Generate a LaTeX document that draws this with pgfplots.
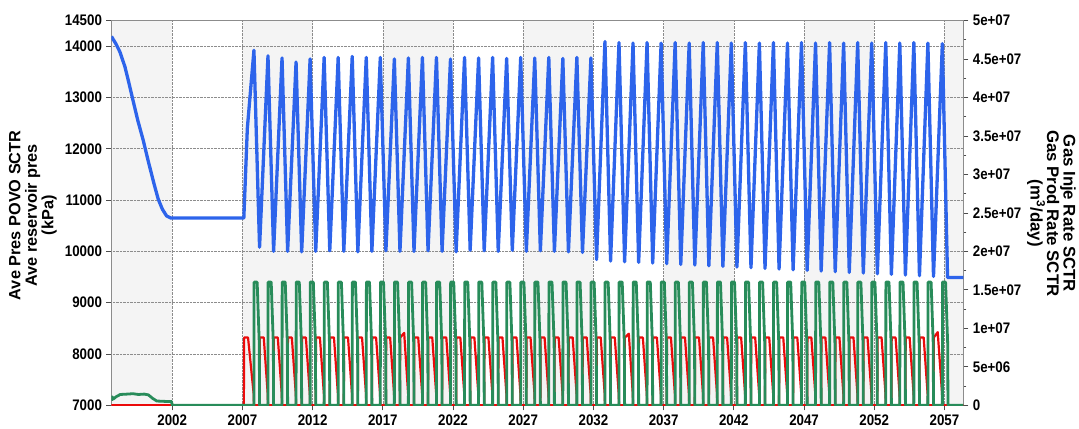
\documentclass[border=0pt]{standalone}
\usepackage{pgfplots}
\pgfplotsset{compat=1.18}
\usepackage{fontspec}
\setmainfont{Liberation Sans}[FakeStretch=0.87]
\newfontfamily\labelfont{Liberation Sans}
\definecolor{cblue}{RGB}{45,100,235}
\definecolor{cgreen}{RGB}{40,140,90}
\definecolor{cred}{RGB}{235,10,10}
\definecolor{band}{RGB}{244,244,244}
\begin{document}
\begin{tikzpicture}
\pgfplotsset{
  base/.style={width=852.5pt, height=385pt, scale only axis, at={(0,0)}, anchor=south west,
    xmin=1997.67, xmax=2058.35,
    tick label style={font=\bfseries\fontsize{15.3}{16}\selectfont}},
}
% background bands
\begin{axis}[base, ymin=7000, ymax=14500, hide axis]
\fill[band] (axis cs:1997.67,7000) rectangle (axis cs:2002,14500);
\fill[band] (axis cs:2007,7000) rectangle (axis cs:2012,14500);
\fill[band] (axis cs:2017,7000) rectangle (axis cs:2022,14500);
\fill[band] (axis cs:2027,7000) rectangle (axis cs:2032,14500);
\fill[band] (axis cs:2037,7000) rectangle (axis cs:2042,14500);
\fill[band] (axis cs:2047,7000) rectangle (axis cs:2052,14500);
\fill[band] (axis cs:2057,7000) rectangle (axis cs:2058.35,14500);
\end{axis}
% left axis frame, grid and ticks
\begin{axis}[base, ymin=7000, ymax=14500,
  xtick={2002,2007,...,2057}, ytick={7000,8000,...,14000,14500},
  minor y tick num=1, scaled ticks=false,
  /pgf/number format/assume math mode=true, /pgf/number format/1000 sep={},
  grid=major, grid style={densely dotted, black!45, line width=0.6pt},
  axis line style={black!45, line width=0.8pt},
  tick style={black!70, line width=0.7pt}, tick align=outside,
  major tick length=5pt, minor tick length=3pt,
  xtick pos=bottom, ytick pos=left,
  xticklabel style={yshift=-1pt}, yticklabel style={xshift=-1pt}]
\end{axis}
% right axis: rates (millions m3/day)
\begin{axis}[base, ymin=0, ymax=50, axis x line=none, axis y line*=right,
  ytick={0,5,...,50}, minor y tick num=1,
  yticklabels={0,5e+06,1e+07,1.5e+07,2e+07,2.5e+07,3e+07,3.5e+07,4e+07,4.5e+07,5e+07},
  axis line style={black!45, line width=0.8pt},
  tick style={black!70, line width=0.7pt}, tick align=outside,
  major tick length=5pt, minor tick length=3pt, yticklabel style={xshift=1pt}]
% Gas Inje Rate (red)
\addplot[cred, line width=2.2pt, line join=round] coordinates {
(1997.67,0)(2007.1,0)(2007.12,8.8)(2007.4,8.8)(2007.8,1.5)(2007.82,0)
(2008.22,0)(2008.24,8.8)(2008.52,8.8)(2008.8,1.5)(2008.82,0)
(2009.22,0)(2009.24,8.8)(2009.52,8.8)(2009.8,1.5)(2009.82,0)
(2010.22,0)(2010.24,8.8)(2010.52,8.8)(2010.8,1.5)(2010.82,0)
(2011.22,0)(2011.24,8.8)(2011.52,8.8)(2011.8,1.5)(2011.82,0)
(2012.22,0)(2012.24,8.8)(2012.52,8.8)(2012.8,1.5)(2012.82,0)
(2013.22,0)(2013.24,8.8)(2013.52,8.8)(2013.8,1.5)(2013.82,0)
(2014.22,0)(2014.24,8.8)(2014.52,8.8)(2014.8,1.5)(2014.82,0)
(2015.22,0)(2015.24,8.8)(2015.52,8.8)(2015.8,1.5)(2015.82,0)
(2016.22,0)(2016.24,8.8)(2016.52,8.8)(2016.8,1.5)(2016.82,0)
(2017.22,0)(2017.24,8.8)(2017.52,8.8)(2017.8,1.5)(2017.82,0)
(2018.22,0)(2018.24,8.8)(2018.52,9.4)(2018.8,1.5)(2018.82,0)
(2019.22,0)(2019.24,8.8)(2019.52,8.8)(2019.8,1.5)(2019.82,0)
(2020.22,0)(2020.24,8.8)(2020.52,8.8)(2020.8,1.5)(2020.82,0)
(2021.22,0)(2021.24,8.8)(2021.52,8.8)(2021.8,1.5)(2021.82,0)
(2022.22,0)(2022.24,8.8)(2022.52,8.8)(2022.8,1.5)(2022.82,0)
(2023.22,0)(2023.24,8.8)(2023.52,8.8)(2023.8,1.5)(2023.82,0)
(2024.22,0)(2024.24,8.8)(2024.52,8.8)(2024.8,1.5)(2024.82,0)
(2025.22,0)(2025.24,8.8)(2025.52,8.8)(2025.8,1.5)(2025.82,0)
(2026.22,0)(2026.24,8.8)(2026.52,8.8)(2026.8,1.5)(2026.82,0)
(2027.22,0)(2027.24,8.8)(2027.52,8.8)(2027.8,1.5)(2027.82,0)
(2028.22,0)(2028.24,8.8)(2028.52,8.8)(2028.8,1.5)(2028.82,0)
(2029.22,0)(2029.24,8.8)(2029.52,8.8)(2029.8,1.5)(2029.82,0)
(2030.22,0)(2030.24,8.8)(2030.52,8.8)(2030.8,1.5)(2030.82,0)
(2031.22,0)(2031.24,8.8)(2031.52,8.8)(2031.8,1.5)(2031.82,0)
(2032.22,0)(2032.24,8.8)(2032.52,8.8)(2032.8,1.5)(2032.82,0)
(2033.22,0)(2033.24,8.8)(2033.52,8.8)(2033.8,1.5)(2033.82,0)
(2034.22,0)(2034.24,8.8)(2034.52,9.3)(2034.8,1.5)(2034.82,0)
(2035.22,0)(2035.24,8.8)(2035.52,8.8)(2035.8,1.5)(2035.82,0)
(2036.22,0)(2036.24,8.8)(2036.52,8.8)(2036.8,1.5)(2036.82,0)
(2037.22,0)(2037.24,8.8)(2037.52,8.8)(2037.8,1.5)(2037.82,0)
(2038.22,0)(2038.24,8.8)(2038.52,8.8)(2038.8,1.5)(2038.82,0)
(2039.22,0)(2039.24,8.8)(2039.52,8.8)(2039.8,1.5)(2039.82,0)
(2040.22,0)(2040.24,8.8)(2040.52,8.8)(2040.8,1.5)(2040.82,0)
(2041.22,0)(2041.24,8.8)(2041.52,8.8)(2041.8,1.5)(2041.82,0)
(2042.22,0)(2042.24,8.8)(2042.52,8.8)(2042.8,1.5)(2042.82,0)
(2043.22,0)(2043.24,8.8)(2043.52,8.8)(2043.8,1.5)(2043.82,0)
(2044.22,0)(2044.24,8.8)(2044.52,8.8)(2044.8,1.5)(2044.82,0)
(2045.22,0)(2045.24,8.8)(2045.52,8.8)(2045.8,1.5)(2045.82,0)
(2046.22,0)(2046.24,8.8)(2046.52,8.8)(2046.8,1.5)(2046.82,0)
(2047.22,0)(2047.24,8.8)(2047.52,8.8)(2047.8,1.5)(2047.82,0)
(2048.22,0)(2048.24,8.8)(2048.52,8.8)(2048.8,1.5)(2048.82,0)
(2049.22,0)(2049.24,8.8)(2049.52,8.8)(2049.8,1.5)(2049.82,0)
(2050.22,0)(2050.24,8.8)(2050.52,8.8)(2050.8,1.5)(2050.82,0)
(2051.22,0)(2051.24,8.8)(2051.52,8.8)(2051.8,1.5)(2051.82,0)
(2052.22,0)(2052.24,8.8)(2052.52,8.8)(2052.8,1.5)(2052.82,0)
(2053.22,0)(2053.24,8.8)(2053.52,8.8)(2053.8,1.5)(2053.82,0)
(2054.22,0)(2054.24,8.8)(2054.52,8.8)(2054.8,1.5)(2054.82,0)
(2055.22,0)(2055.24,8.8)(2055.52,8.8)(2055.8,1.5)(2055.82,0)
(2056.22,0)(2056.24,8.8)(2056.52,9.5)(2056.83,1.5)(2056.85,0)
(2058.35,0)};
% Gas Prod Rate (green)
\addplot[cgreen, line width=2.8pt, line join=round] coordinates {
(1997.67,0.6)(1997.72,1.1)(1997.8,0.8)(1998.0,1.1)(1998.3,1.4)(1998.8,1.45)(1999.2,1.5)
(1999.6,1.4)(2000.0,1.45)(2000.3,1.35)(2000.6,0.9)(2000.9,0.55)(2001.5,0.5)(2001.95,0.5)(2002.0,0)
(2007.82,0)(2007.83,16)(2008.05,16)(2008.2,8)(2008.22,0)
(2008.82,0)(2008.83,16)(2009.05,16)(2009.2,8)(2009.22,0)
(2009.82,0)(2009.83,16)(2010.05,16)(2010.2,8)(2010.22,0)
(2010.82,0)(2010.83,16)(2011.05,16)(2011.2,8)(2011.22,0)
(2011.82,0)(2011.83,16)(2012.05,16)(2012.2,8)(2012.22,0)
(2012.82,0)(2012.83,16)(2013.05,16)(2013.2,8)(2013.22,0)
(2013.82,0)(2013.83,16)(2014.05,16)(2014.2,8)(2014.22,0)
(2014.82,0)(2014.83,16)(2015.05,16)(2015.2,8)(2015.22,0)
(2015.82,0)(2015.83,16)(2016.05,16)(2016.2,8)(2016.22,0)
(2016.82,0)(2016.83,16)(2017.05,16)(2017.2,8)(2017.22,0)
(2017.82,0)(2017.83,16)(2018.05,16)(2018.2,8)(2018.22,0)
(2018.82,0)(2018.83,16)(2019.05,16)(2019.2,8)(2019.22,0)
(2019.82,0)(2019.83,16)(2020.05,16)(2020.2,8)(2020.22,0)
(2020.82,0)(2020.83,16)(2021.05,16)(2021.2,8)(2021.22,0)
(2021.82,0)(2021.83,16)(2022.05,16)(2022.2,8)(2022.22,0)
(2022.82,0)(2022.83,16)(2023.05,16)(2023.2,8)(2023.22,0)
(2023.82,0)(2023.83,16)(2024.05,16)(2024.2,8)(2024.22,0)
(2024.82,0)(2024.83,16)(2025.05,16)(2025.2,8)(2025.22,0)
(2025.82,0)(2025.83,16)(2026.05,16)(2026.2,8)(2026.22,0)
(2026.82,0)(2026.83,16)(2027.05,16)(2027.2,8)(2027.22,0)
(2027.82,0)(2027.83,16)(2028.05,16)(2028.2,8)(2028.22,0)
(2028.82,0)(2028.83,16)(2029.05,16)(2029.2,8)(2029.22,0)
(2029.82,0)(2029.83,16)(2030.05,16)(2030.2,8)(2030.22,0)
(2030.82,0)(2030.83,16)(2031.05,16)(2031.2,8)(2031.22,0)
(2031.82,0)(2031.83,16)(2032.05,16)(2032.2,8)(2032.22,0)
(2032.82,0)(2032.83,16)(2033.05,16)(2033.2,8)(2033.22,0)
(2033.82,0)(2033.83,16)(2034.05,16)(2034.2,8)(2034.22,0)
(2034.82,0)(2034.83,16)(2035.05,16)(2035.2,8)(2035.22,0)
(2035.82,0)(2035.83,16)(2036.05,16)(2036.2,8)(2036.22,0)
(2036.82,0)(2036.83,16)(2037.05,16)(2037.2,8)(2037.22,0)
(2037.82,0)(2037.83,16)(2038.05,16)(2038.2,8)(2038.22,0)
(2038.82,0)(2038.83,16)(2039.05,16)(2039.2,8)(2039.22,0)
(2039.82,0)(2039.83,16)(2040.05,16)(2040.2,8)(2040.22,0)
(2040.82,0)(2040.83,16)(2041.05,16)(2041.2,8)(2041.22,0)
(2041.82,0)(2041.83,16)(2042.05,16)(2042.2,8)(2042.22,0)
(2042.82,0)(2042.83,16)(2043.05,16)(2043.2,8)(2043.22,0)
(2043.82,0)(2043.83,16)(2044.05,16)(2044.2,8)(2044.22,0)
(2044.82,0)(2044.83,16)(2045.05,16)(2045.2,8)(2045.22,0)
(2045.82,0)(2045.83,16)(2046.05,16)(2046.2,8)(2046.22,0)
(2046.82,0)(2046.83,16)(2047.05,16)(2047.2,8)(2047.22,0)
(2047.82,0)(2047.83,16)(2048.05,16)(2048.2,8)(2048.22,0)
(2048.82,0)(2048.83,16)(2049.05,16)(2049.2,8)(2049.22,0)
(2049.82,0)(2049.83,16)(2050.05,16)(2050.2,8)(2050.22,0)
(2050.82,0)(2050.83,16)(2051.05,16)(2051.2,8)(2051.22,0)
(2051.82,0)(2051.83,16)(2052.05,16)(2052.2,8)(2052.22,0)
(2052.82,0)(2052.83,16)(2053.05,16)(2053.2,8)(2053.22,0)
(2053.82,0)(2053.83,16)(2054.05,16)(2054.2,8)(2054.22,0)
(2054.82,0)(2054.83,16)(2055.05,16)(2055.2,8)(2055.22,0)
(2055.82,0)(2055.83,16)(2056.05,16)(2056.2,8)(2056.22,0)
(2056.85,0)(2056.86,16)(2057.08,16)(2057.23,8)(2057.25,0)
(2058.35,0)};
\end{axis}
% pressure (blue), left scale
\begin{axis}[base, ymin=7000, ymax=14500, hide axis]
\addplot[cblue, line width=3.3pt, line join=round] coordinates {
(1997.67,14190)(1997.8,14130)(1998.0,14040)(1998.27,13890)(1998.63,13600)(1998.9,13300)
(1999.2,12950)(1999.55,12550)(1999.93,12170)(2000.3,11750)(2000.7,11320)(2001.0,11020)
(2001.3,10820)(2001.6,10690)(2001.9,10650)
(2007.1,10650)(2007.35,12400)(2007.82,13920)(2008.22,10080)(2008.82,13810)(2009.22,10000)
(2009.82,13770)(2010.22,10000)(2010.82,13690)(2011.22,9990)(2011.82,13750)(2012.22,10000)
(2012.82,13780)(2013.22,10010)(2013.82,13780)(2014.22,10000)(2014.82,13800)(2015.22,9990)
(2015.82,13780)(2016.22,10000)(2016.82,13780)(2017.22,10010)(2017.82,13750)(2018.22,10000)
(2018.82,13770)(2019.22,10000)(2019.82,13780)(2020.22,10010)(2020.82,13780)(2021.22,10000)
(2021.82,13750)(2022.22,9990)(2022.82,13780)(2023.22,10020)(2023.82,13770)(2024.22,10010)
(2024.82,13780)(2025.22,10000)(2025.82,13760)(2026.22,10020)(2026.82,13780)(2027.22,10000)
(2027.82,13770)(2028.22,10010)(2028.82,13780)(2029.22,10000)(2029.82,13760)(2030.22,9990)
(2030.82,13780)(2031.22,9980)(2031.82,13770)(2032.22,9840)(2032.82,14090)(2033.22,9810)
(2033.82,14070)(2034.22,9797)(2034.82,14060)(2035.22,9784)(2035.82,14070)(2036.22,9771)
(2036.82,14060)(2037.22,9758)(2037.82,14070)(2038.22,9745)(2038.82,14060)(2039.22,9732)
(2039.82,14070)(2040.22,9719)(2040.82,14070)(2041.22,9706)(2041.82,14060)(2042.22,9693)
(2042.82,14070)(2043.22,9680)(2043.82,14060)(2044.22,9667)(2044.82,14070)(2045.22,9654)
(2045.82,14060)(2046.22,9641)(2046.82,14070)(2047.22,9628)(2047.82,14060)(2048.22,9615)
(2048.82,14070)(2049.22,9602)(2049.82,14060)(2050.22,9589)(2050.82,14070)(2051.22,9576)
(2051.82,14060)(2052.22,9563)(2052.82,14070)(2053.22,9550)(2053.82,14060)(2054.22,9537)
(2054.82,14070)(2055.22,9524)(2055.82,14060)(2056.22,9511)(2056.85,14050)(2057.22,9490)
(2058.35,9490)};
\end{axis}
\node[rotate=90, align=center, font=\labelfont\bfseries\fontsize{16.3}{16.5}\selectfont] at (-78.5pt,190pt)
  {Ave Pres POVO SCTR\\Ave reservoir pres\\(kPa)};
\node[rotate=-90, align=center, font=\labelfont\bfseries\fontsize{16.8}{16.5}\selectfont] at (940.5pt,192pt)
  {Gas Inje Rate SCTR\\Gas Prod Rate SCTR\\(m\textsuperscript{3}/day)};
\path[use as bounding box] (-111.5pt,-22.5pt) rectangle (967.5pt,405.5pt);
\end{tikzpicture}
\end{document}
